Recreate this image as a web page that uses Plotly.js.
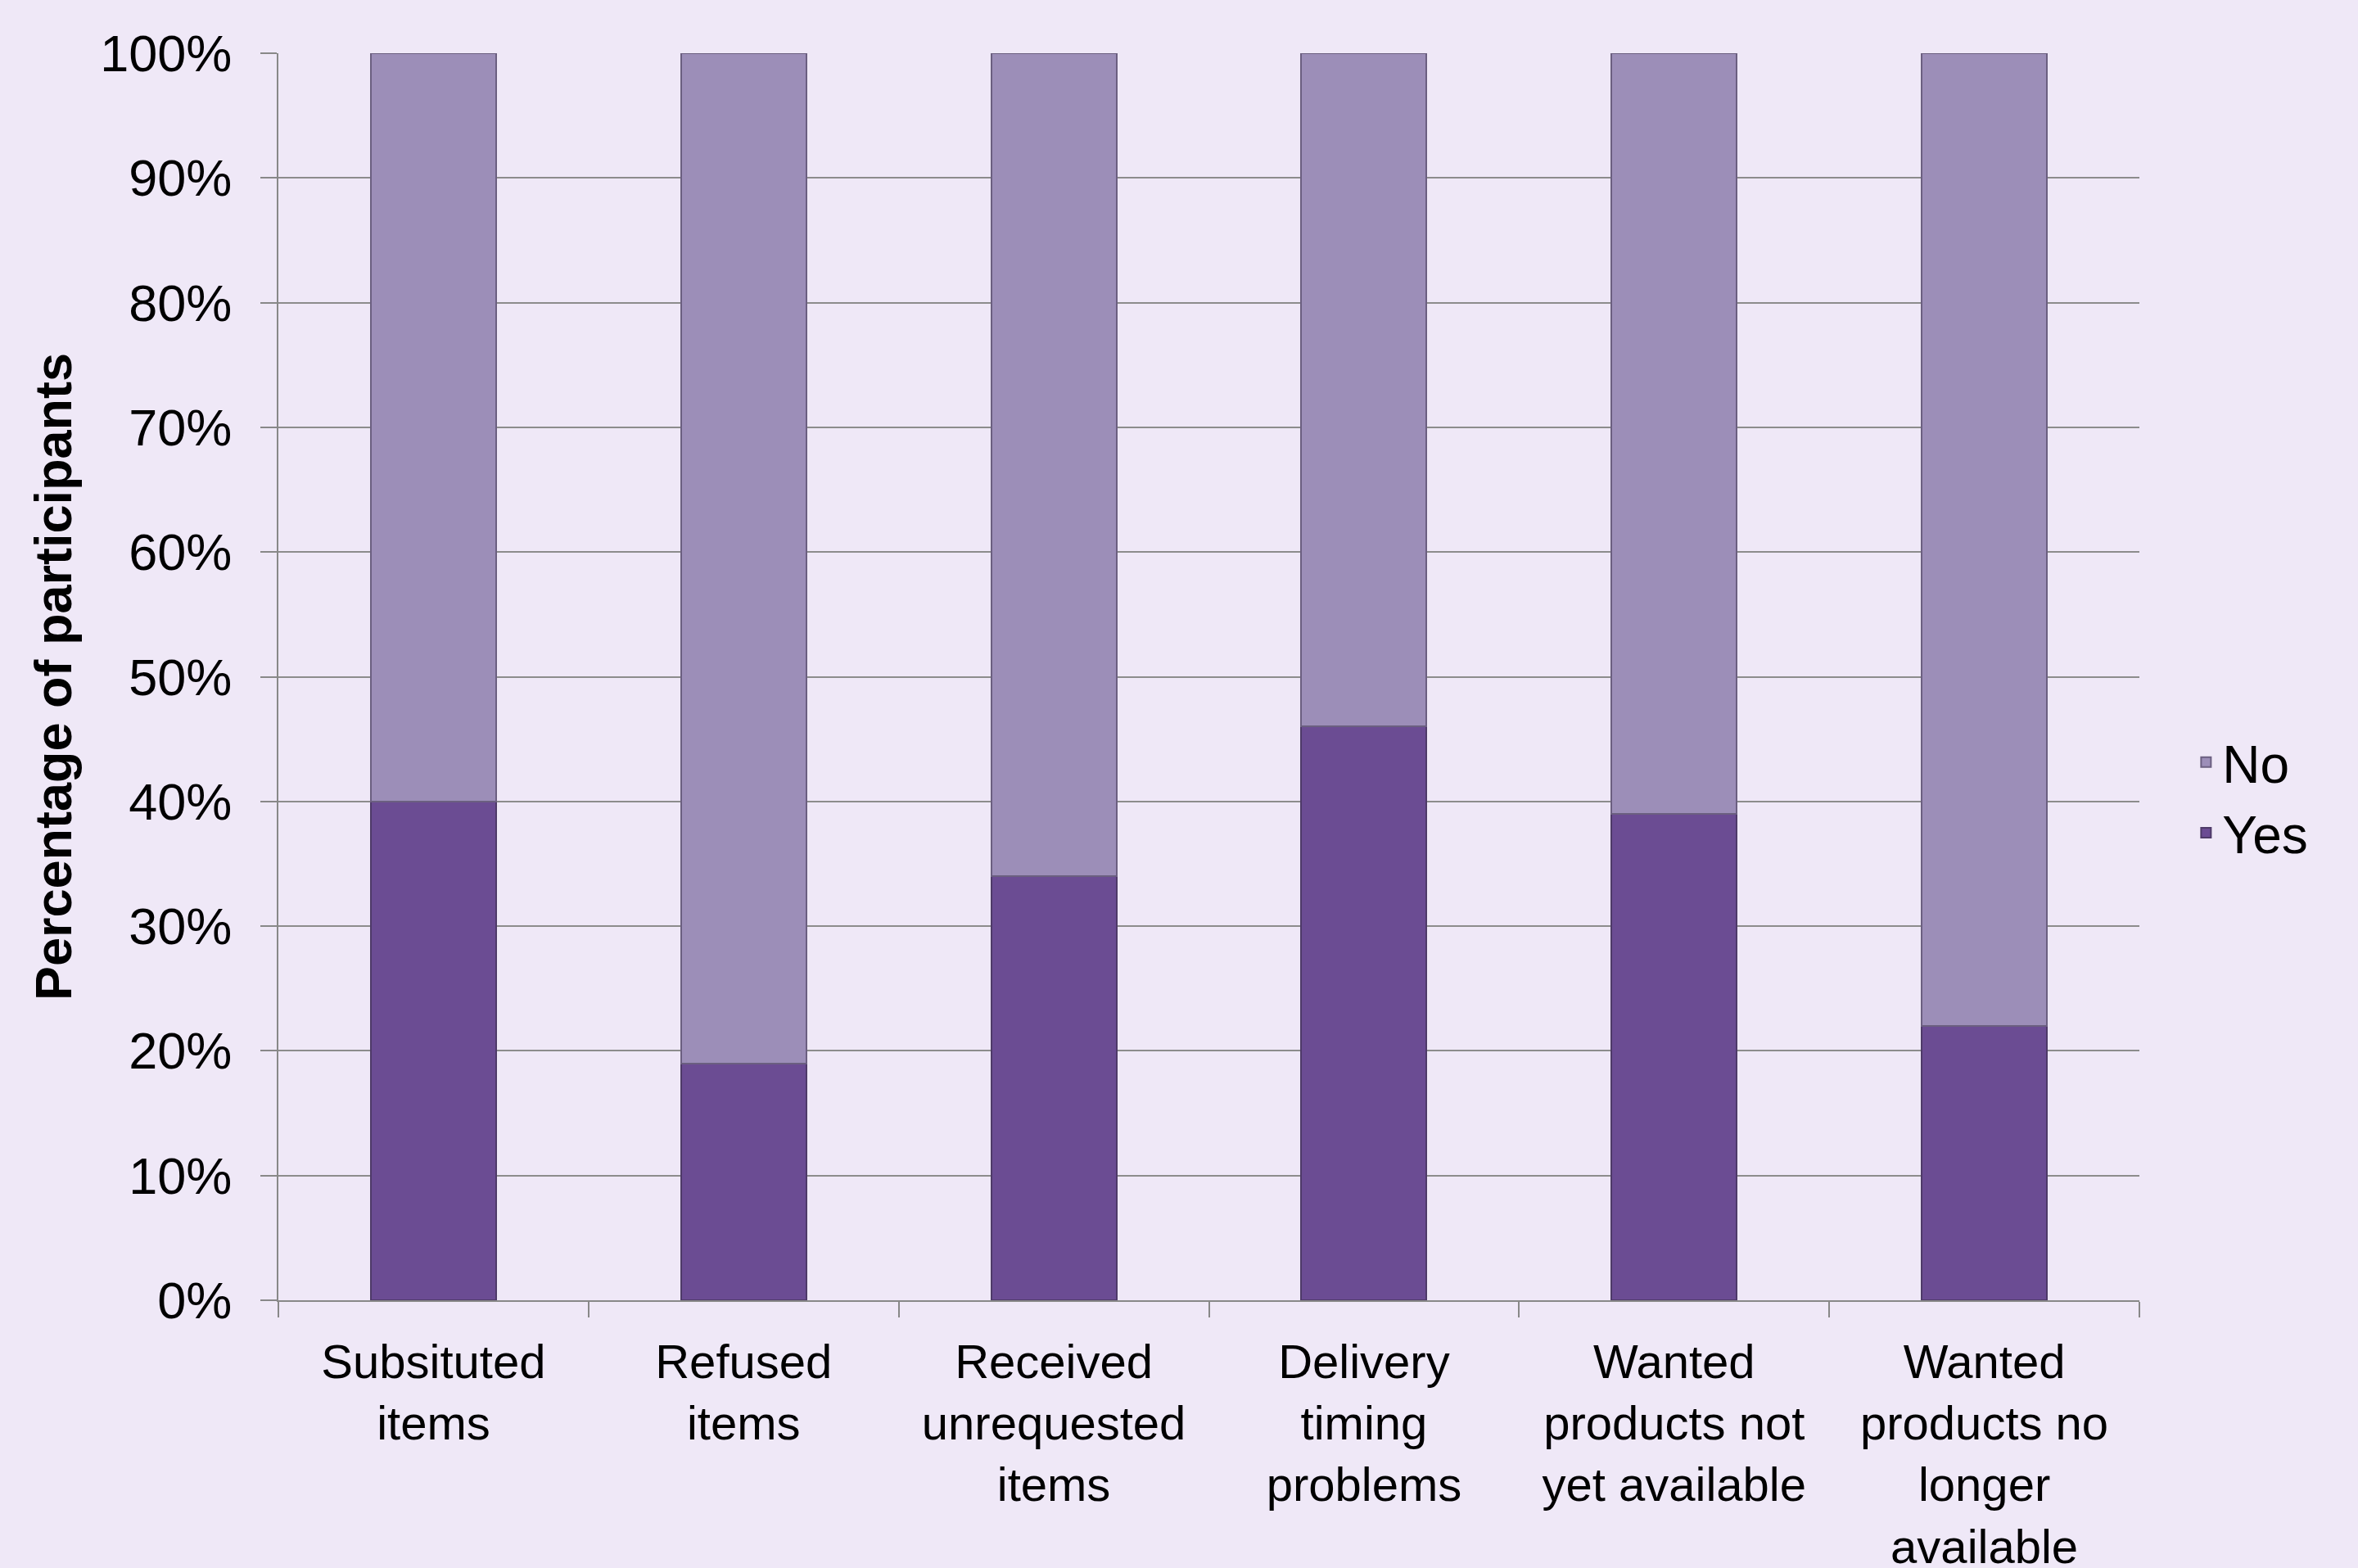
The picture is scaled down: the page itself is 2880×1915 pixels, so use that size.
<!DOCTYPE html>
<html>
<head>
<meta charset="utf-8">
<script src="https://cdn.plot.ly/plotly-3.0.1.min.js"></script>
<style>html,body{margin:0;padding:0;background:#EFE8F7;}</style>
</head>
<body>
<div id="chart" style="width:2880px;height:1915px;"></div>
<script>
const categories = [
  "Subsituted<br>items",
  "Refused<br>items",
  "Received<br>unrequested<br>items",
  "Delivery<br>timing<br>problems",
  "Wanted<br>products not<br>yet available",
  "Wanted<br>products no<br>longer<br>available"
];
const yesValues = [40, 19, 34, 46, 39, 22];
const noValues = [60, 81, 66, 54, 61, 78];
const yTickVals = [0, 10, 20, 30, 40, 50, 60, 70, 80, 90, 100];
const yTickText = ["0%", "10%", "20%", "30%", "40%", "50%", "60%", "70%", "80%", "90%", "100%"];

const font = "Liberation Sans, Arial, sans-serif";
const traces = [
  {
    type: "bar", name: "Yes", x: categories, y: yesValues,
    marker: {color: "#6B4C93", line: {color: "#4E3A68", width: 2}}
  },
  {
    type: "bar", name: "No", x: categories, y: noValues,
    marker: {color: "#9C8EB8", line: {color: "#6B5F80", width: 2}}
  }
];
const layout = {
  width: 2880, height: 1915,
  paper_bgcolor: "#EFE8F7", plot_bgcolor: "#EFE8F7",
  barmode: "stack", bargap: 0.596,
  margin: {l: 340, r: 267, t: 65, b: 327},
  font: {family: font, color: "#000", size: 60},
  showlegend: true,
  legend: {
    x: 1.027, xanchor: "left", y: 0.403, yanchor: "middle",
    traceorder: "reversed", font: {size: 64, family: font},
    bgcolor: "rgba(0,0,0,0)", itemwidth: 30
  },
  xaxis: {
    type: "category", tickson: "boundaries",
    ticks: "outside", ticklen: 19, tickwidth: 2, tickcolor: "#888",
    showline: true, linecolor: "#888", linewidth: 2,
    showgrid: false, tickfont: {size: 58, family: font},
    ticklabelstandoff: 23
  },
  yaxis: {
    range: [0, 100], tickvals: yTickVals, ticktext: yTickText,
    ticks: "outside", ticklen: 20, tickwidth: 2, tickcolor: "#888",
    showline: true, linecolor: "#888", linewidth: 2,
    showgrid: true, gridcolor: "#8C8C8C", gridwidth: 2,
    zeroline: false, tickfont: {size: 63, family: font},
    ticklabelstandoff: 22,
    title: {text: "<b>Percentage of participants</b>", font: {size: 63, family: font}, standoff: 14}
  }
};
Plotly.newPlot("chart", traces, layout, {displayModeBar: false, staticPlot: true});
</script>
</body>
</html>
